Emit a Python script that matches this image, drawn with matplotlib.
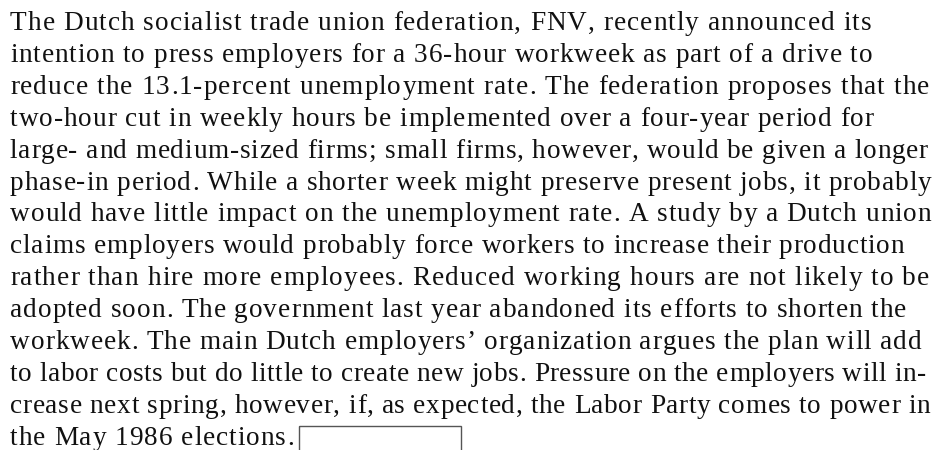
import matplotlib
matplotlib.use("Agg")
import matplotlib.pyplot as plt
from matplotlib import font_manager
from matplotlib.patches import Rectangle

# Zeilen des Textes, wie im Original umbrochen
lines = [
    "The Dutch socialist trade union federation, FNV, recently announced its",
    "intention to press employers for a 36-hour workweek as part of a drive to",
    "reduce the 13.1-percent unemployment rate. The federation proposes that the",
    "two-hour cut in weekly hours be implemented over a four-year period for",
    "large- and medium-sized firms; small firms, however, would be given a longer",
    "phase-in period. While a shorter week might preserve present jobs, it probably",
    "would have little impact on the unemployment rate. A study by a Dutch union",
    "claims employers would probably force workers to increase their production",
    "rather than hire more employees. Reduced working hours are not likely to be",
    "adopted soon. The government last year abandoned its efforts to shorten the",
    "workweek. The main Dutch employers\u2019 organization argues the plan will add",
    "to labor costs but do little to create new jobs. Pressure on the employers will in-",
    "crease next spring, however, if, as expected, the Labor Party comes to power in",
    "the May 1986 elections.",
]
# rechtes Zeilenende im Original (Pixel)
line_ends = [870, 871, 928, 873, 927, 930, 930, 903, 928, 905, 920, 925, 929, 293]

W, H = 933, 450
FS = 19.6
x0 = 10
y0 = 30
dy = 31.9

fig = plt.figure(figsize=(W / 100, H / 100), dpi=100)
ax = fig.add_axes([0, 0, 1, 1])
ax.set_xlim(0, W)
ax.set_ylim(H, 0)
ax.axis("off")

fp = font_manager.FontProperties(family="Liberation Serif")
font = font_manager.get_font(font_manager.findfont(fp))
font.set_size(FS, 100)
try:
    from matplotlib.ft2font import LoadFlags
    flags = LoadFlags.NO_HINTING
except ImportError:
    from matplotlib.ft2font import LOAD_NO_HINTING as flags


def advance(c):
    g = font.load_char(ord(c), flags=flags)
    return g.linearHoriAdvance / 65536


for i, (s, end) in enumerate(zip(lines, line_ends)):
    adv = [advance(c) for c in s]
    natural = sum(adv[:-1]) + advance(s[-1]) * 0.9
    track = (end - x0 - natural) / (len(s) - 1)
    x = x0
    y = y0 + i * dy
    for c, a in zip(s, adv):
        if c != " ":
            ax.text(x, y, c, fontproperties=fp, fontsize=FS,
                    ha="left", va="baseline", color="#111111")
        x += a + track

# leeres Kästchen am Ende
ax.add_patch(Rectangle((299, 426), 162, 30, fill=False, lw=1.0, ec="#555555"))

fig.savefig("out.png", dpi=100)
